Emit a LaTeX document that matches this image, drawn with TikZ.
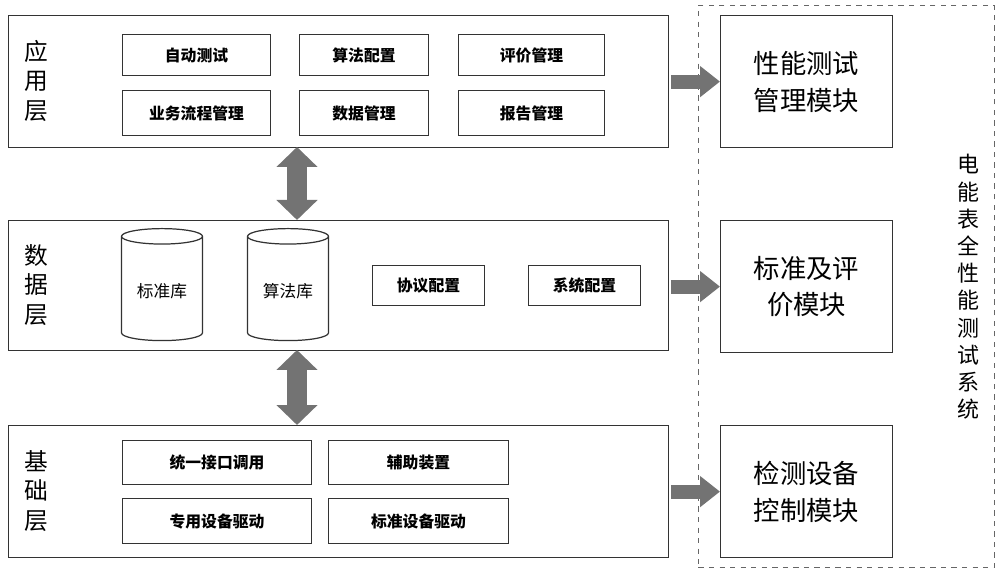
\documentclass[tikz,border=0pt]{standalone}
\usepackage{fontspec}
\setmainfont{Noto Sans CJK SC}
\usetikzlibrary{arrows.meta,shapes.geometric}
\begin{document}
\begin{tikzpicture}[x=0.02cm,y=-0.02cm,
 layer/.style={draw=black!80,line width=0.7pt,anchor=north west,inner sep=0},
 item/.style={draw=black!80,line width=0.6pt,font=\fontsize{9}{11}\selectfont\bfseries,inner sep=0,anchor=north west},
 mod/.style={draw=black!80,line width=0.7pt,inner sep=0,anchor=north west,align=center,font=\fontsize{15}{21}\selectfont},
 lbl/.style={align=center,font=\fontsize{13.5}{17}\selectfont},
 cyl/.style={cylinder,shape border rotate=90,draw=black!80,line width=0.7pt,aspect=0.25,minimum width=81*0.02cm,minimum height=112*0.02cm,font=\fontsize{9.5}{11}\selectfont,anchor=north},
 fat/.style={draw=black!55,line width=0.28cm,-{Triangle[width=0.6cm,length=0.4cm]},shorten <=1pt},
 dfat/.style={draw=black!55,line width=0.4cm,{Triangle[width=0.8cm,length=0.4cm]}-{Triangle[width=0.8cm,length=0.4cm]}}]
\useasboundingbox (0,0) rectangle (1000,573);
\node[draw=black!60,dashed,line width=0.5pt,minimum width=296*0.02cm,minimum height=562*0.02cm,anchor=north west,inner sep=0] (sys) at (698,5) {};
\node[lbl,font=\fontsize{12.5}{15.5}\selectfont] (syst) at (968,287) {电\\能\\表\\全\\性\\能\\测\\试\\系\\统};
% layers
\node[layer,minimum width=660*0.02cm,minimum height=132*0.02cm] (app) at (8,15) {};
\node[layer,minimum width=660*0.02cm,minimum height=130*0.02cm] (dat) at (8,220) {};
\node[layer,minimum width=660*0.02cm,minimum height=132*0.02cm] (bas) at (8,425) {};
\node[lbl] (appl) at (36,81) {应\\用\\层};
\node[lbl] (datl) at (36,285) {数\\据\\层};
\node[lbl] (basl) at (36,491) {基\\础\\层};
% app items
\node[item,minimum width=148*0.02cm,minimum height=41*0.02cm] (a1) at (122,34) {自动测试};
\node[item,minimum width=129*0.02cm,minimum height=41*0.02cm] (a2) at (299,34) {算法配置};
\node[item,minimum width=146*0.02cm,minimum height=41*0.02cm] (a3) at (458,34) {评价管理};
\node[item,minimum width=148*0.02cm,minimum height=45*0.02cm] (a4) at (122,90) {业务流程管理};
\node[item,minimum width=129*0.02cm,minimum height=45*0.02cm] (a5) at (299,90) {数据管理};
\node[item,minimum width=146*0.02cm,minimum height=45*0.02cm] (a6) at (458,90) {报告管理};
% data items
\node[cyl] (c1) at (162,228) {标准库};
\node[cyl] (c2) at (288,228) {算法库};
\node[item,minimum width=112*0.02cm,minimum height=40*0.02cm] (d1) at (372,265) {协议配置};
\node[item,minimum width=112*0.02cm,minimum height=40*0.02cm] (d2) at (528,265) {系统配置};
% base items
\node[item,minimum width=189*0.02cm,minimum height=44*0.02cm] (b1) at (122,440) {统一接口调用};
\node[item,minimum width=180*0.02cm,minimum height=44*0.02cm] (b2) at (328,440) {辅助装置};
\node[item,minimum width=189*0.02cm,minimum height=45*0.02cm] (b3) at (122,498) {专用设备驱动};
\node[item,minimum width=180*0.02cm,minimum height=45*0.02cm] (b4) at (328,498) {标准设备驱动};
% modules
\node[mod,minimum width=172*0.02cm,minimum height=132*0.02cm] (m1) at (720,15) {性能测试\\管理模块};
\node[mod,minimum width=172*0.02cm,minimum height=132*0.02cm] (m2) at (720,220) {标准及评\\价模块};
\node[mod,minimum width=172*0.02cm,minimum height=132*0.02cm] (m3) at (720,425) {检测设备\\控制模块};
% arrows
\coordinate (u1) at (297,147); \coordinate (u2) at (297,220);
\coordinate (v1) at (297,350); \coordinate (v2) at (297,425);
\draw[dfat] (u1) -- (u2);
\draw[dfat] (v1) -- (v2);
\draw[fat] (app.east |- m1.west) -- (m1.west);
\draw[fat] (dat.east |- m2.west) -- (m2.west);
\draw[fat] (bas.east |- m3.west) -- (m3.west);
\end{tikzpicture}
\end{document}
